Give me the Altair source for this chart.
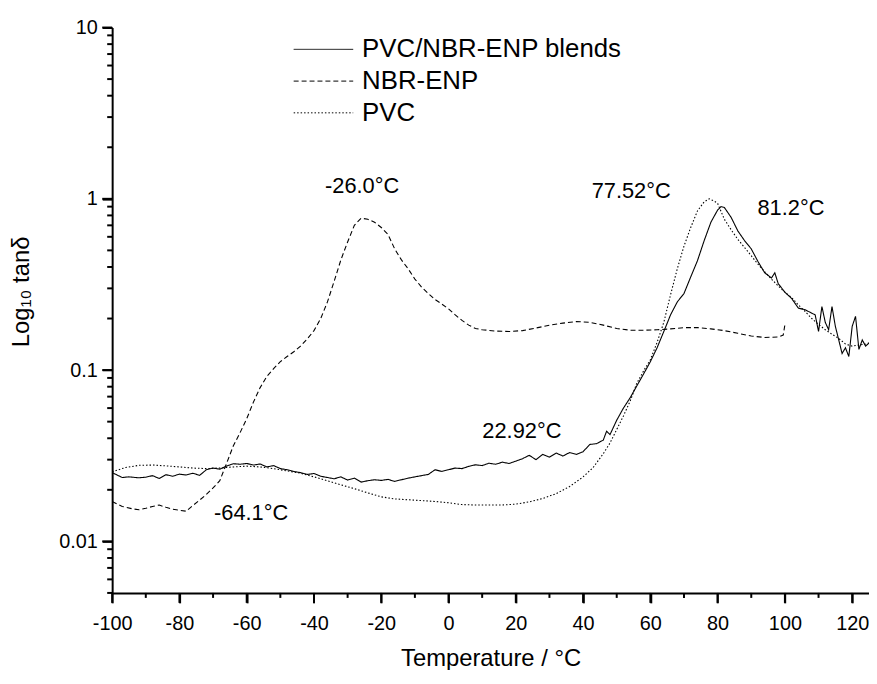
import altair as alt
import pandas as pd

# ---------------- data ----------------
SERIES = ["PVC/NBR-ENP blends", "NBR-ENP", "PVC"]

blend_t = [-100, -97, -95, -92, -90, -88, -86, -84, -82, -80, -78, -76, -74, -72, -70,
           -68, -66, -64, -62, -60, -58, -56, -54, -52, -50, -48, -46, -44, -42, -40,
           -38, -36, -34, -32, -30, -28, -26, -24, -22, -20, -18, -16, -14, -12, -10,
           -8, -6, -4, -2, 0, 2, 4, 6, 8, 10, 12, 14, 16, 18, 20, 22, 24, 26, 28, 30,
           32, 34, 36, 38, 40, 42, 44, 46, 47, 48, 50, 52, 54, 56, 58, 60, 62, 64, 66,
           68, 70, 72, 74, 76, 78, 80, 81, 82, 84, 86, 88, 90, 92, 94, 96, 97, 98, 100,
           102, 104, 106, 108, 109, 110, 111, 112, 113, 114, 115, 116, 117, 118, 119,
           120, 121, 122, 123, 124, 125]
blend_v = [0.0252, 0.0236, 0.0238, 0.0235, 0.0237, 0.0242, 0.0233, 0.0245, 0.0240, 0.0247,
           0.0244, 0.0250, 0.0243, 0.0262, 0.0268, 0.0264, 0.0275, 0.0284, 0.0282, 0.0285,
           0.0279, 0.0283, 0.0272, 0.0277, 0.0266, 0.0262, 0.0256, 0.0252, 0.0246, 0.0249,
           0.0240, 0.0236, 0.0232, 0.0238, 0.0228, 0.0234, 0.0222, 0.0226, 0.0229, 0.0227,
           0.0230, 0.0224, 0.0229, 0.0234, 0.0238, 0.0242, 0.0246, 0.0262, 0.0256, 0.0262,
           0.0268, 0.0266, 0.0274, 0.0280, 0.0277, 0.0286, 0.0282, 0.0290, 0.0285, 0.0294,
           0.0304, 0.0318, 0.0300, 0.0322, 0.0310, 0.0328, 0.0315, 0.0330, 0.0322, 0.0334,
           0.0368, 0.0372, 0.0390, 0.0440, 0.0420, 0.0510, 0.0600, 0.0690, 0.0810, 0.0950,
           0.1120, 0.1350, 0.1680, 0.2100, 0.2500, 0.2800, 0.3500, 0.4350, 0.5700, 0.7300,
           0.8600, 0.9000, 0.8900, 0.7800, 0.6500, 0.5700, 0.5100, 0.4300, 0.3700, 0.3450,
           0.3700, 0.3200, 0.2850, 0.2620, 0.2300, 0.2250, 0.2150, 0.2100, 0.1680, 0.2350,
           0.1900, 0.1720, 0.2350, 0.1800, 0.1500, 0.1250, 0.1350, 0.1200, 0.1800, 0.2060,
           0.1320, 0.1500, 0.1380, 0.1440]

nbr_t = [-100, -97, -94, -92, -90, -88, -86, -84, -82, -80, -78, -76, -74, -72, -70, -68,
         -66, -64, -62, -60, -58, -56, -54, -52, -50, -48, -46, -44, -42, -40, -38, -36,
         -34, -32, -30, -28, -26, -24, -22, -20, -18, -16, -14, -12, -10, -8, -6, -4, -2,
         0, 2, 4, 6, 8, 10, 14, 18, 22, 26, 30, 34, 38, 42, 46, 50, 54, 58, 62, 66, 70,
         74, 78, 82, 86, 90, 94, 98, 99.5, 100]
nbr_v = [0.0171, 0.0160, 0.0155, 0.0153, 0.0156, 0.0160, 0.0163, 0.0158, 0.0154, 0.0152,
         0.0150, 0.0162, 0.0174, 0.0188, 0.0205, 0.0226, 0.0285, 0.0360, 0.0430, 0.0520,
         0.0650, 0.0790, 0.0920, 0.1020, 0.1120, 0.1200, 0.1280, 0.1380, 0.1520, 0.1700,
         0.2000, 0.2500, 0.3300, 0.4400, 0.5600, 0.7000, 0.7700, 0.7600, 0.7300, 0.6800,
         0.6200, 0.5100, 0.4400, 0.3900, 0.3400, 0.3050, 0.2800, 0.2580, 0.2430, 0.2280,
         0.2100, 0.1950, 0.1830, 0.1750, 0.1720, 0.1690, 0.1680, 0.1700, 0.1760, 0.1830,
         0.1880, 0.1920, 0.1900, 0.1830, 0.1750, 0.1710, 0.1710, 0.1720, 0.1740, 0.1770,
         0.1770, 0.1740, 0.1700, 0.1640, 0.1580, 0.1550, 0.1560, 0.1600, 0.1840]

pvc_t = [-100, -96, -92, -88, -84, -80, -76, -72, -68, -64, -60, -56, -52, -48, -44, -40,
         -36, -32, -28, -24, -20, -16, -12, -8, -4, 0, 4, 8, 12, 16, 20, 24, 28, 32, 36,
         40, 43, 46, 48, 50, 52, 54, 56, 58, 60, 62, 64, 66, 68, 70, 72, 74, 76, 77.5,
         79, 80, 82, 84, 86, 88, 90, 92, 94, 96, 98, 100, 102, 104, 106, 108, 110, 112,
         114, 116, 118, 120, 122, 124, 125]
pvc_v = [0.0255, 0.0270, 0.0278, 0.0279, 0.0276, 0.0272, 0.0268, 0.0266, 0.0268, 0.0272,
         0.0275, 0.0272, 0.0266, 0.0258, 0.0250, 0.0238, 0.0226, 0.0214, 0.0203, 0.0192,
         0.0182, 0.0177, 0.0175, 0.0173, 0.0171, 0.0168, 0.0164, 0.0163, 0.0163, 0.0163,
         0.0165, 0.0170, 0.0178, 0.0190, 0.0209, 0.0238, 0.0270, 0.0325, 0.0375, 0.0450,
         0.0540, 0.0660, 0.0840, 0.0990, 0.1150, 0.1450, 0.1900, 0.2750, 0.3900, 0.5300,
         0.6800, 0.8500, 0.9600, 1.0000, 0.9700, 0.9400, 0.7600, 0.6600, 0.5800, 0.5200,
         0.4650, 0.4150, 0.3750, 0.3400, 0.3100, 0.2850, 0.2650, 0.2400, 0.2200, 0.2000,
         0.1850, 0.1720, 0.1620, 0.1530, 0.1420, 0.1380, 0.1400, 0.1420, 0.1440]

ann_text = ["-26.0°C", "77.52°C", "81.2°C", "22.92°C", "-64.1°C"]
ann_t = [-25.7, 54.3, 101.8, 21.8, -58.7]
ann_v = [1.19, 1.11, 0.887, 0.0443, 0.0146]

x_major = list(range(-100, 121, 20))
x_minor = list(range(-90, 121, 20))
y_major = [0.01, 0.1, 1, 10]
y_minor = [round(k * 10 ** e, 6) for e in (-3, -2, -1, 0) for k in range(2, 10)]
y_minor = [v for v in y_minor if 0.005 <= v < 10]

# ---------------- tables ----------------
rows = []
for name, ts, vs in zip(SERIES, [blend_t, nbr_t, pvc_t], [blend_v, nbr_v, pvc_v]):
    for t, v in zip(ts, vs):
        rows.append({"series": name, "T": t, "v": v})
df = pd.DataFrame(rows)
ann = pd.DataFrame({"label": ann_text, "T": ann_t, "v": ann_v})
xmaj = pd.DataFrame({"t": x_major})
xmin = pd.DataFrame({"t": x_minor})
ymaj = pd.DataFrame({"t": y_major})
ymin = pd.DataFrame({"t": y_minor})

FONT = "Liberation Sans"
W, H = 763, 570

x_scale = alt.Scale(domain=[-100, 125], nice=False, zero=False)
y_scale = alt.Scale(type="log", domain=[0.005, 10], nice=False)

x_axis = alt.Axis(
    values=x_major, title="Temperature / °C", orient="bottom",
    labelExpr="'' + datum.value", ticks=True, tickSize=10,
    labelFlush=False, labelOverlap=False, labelPadding=11, titlePadding=13,
)
y_axis = alt.Axis(
    values=y_major, title="Log₁₀ tanδ", orient="left",
    labelExpr="'' + datum.value", ticks=True, tickSize=10,
    labelOverlap=False, labelPadding=5, titleX=-79, titleY=266,
)

lines = alt.Chart(df).mark_line(color="black", strokeWidth=1.1).encode(
    x=alt.X("T:Q", scale=x_scale, axis=x_axis),
    y=alt.Y("v:Q", scale=y_scale, axis=y_axis),
    strokeDash=alt.StrokeDash(
        "series:N",
        scale=alt.Scale(domain=SERIES, range=[[1, 0], [5, 3], [1.5, 2]]),
        legend=alt.Legend(
            title=None, orient="none", legendX=200, legendY=9,
            symbolType="M-3,0L3,0", symbolSize=400, symbolStrokeWidth=1,
            symbolStrokeColor="black", labelOffset=26, labelLimit=0,
            labelFont=FONT, labelFontSize=26, labelColor="black",
            rowPadding=6, padding=0,
        ),
    ),
    detail="series:N",
)

labels = alt.Chart(ann).mark_text(
    font=FONT, fontSize=22, color="black", align="center", baseline="middle"
).encode(
    x=alt.X("T:Q", scale=x_scale, axis=None),
    y=alt.Y("v:Q", scale=y_scale, axis=None),
    text="label:N",
)

# tick marks along the axes (positions come from the scales)
xt_major = alt.Chart(xmaj).mark_rule(color="black", strokeWidth=2).encode(
    x=alt.X("t:Q", scale=x_scale, axis=None), y=alt.value(H), y2=alt.value(H + 10))
xt_minor = alt.Chart(xmin).mark_rule(color="black", strokeWidth=2).encode(
    x=alt.X("t:Q", scale=x_scale, axis=None), y=alt.value(H), y2=alt.value(H + 5))
yt_major = alt.Chart(ymaj).mark_rule(color="black", strokeWidth=2).encode(
    y=alt.Y("t:Q", scale=y_scale, axis=None), x=alt.value(-10), x2=alt.value(0))
yt_minor = alt.Chart(ymin).mark_rule(color="black", strokeWidth=2).encode(
    y=alt.Y("t:Q", scale=y_scale, axis=None), x=alt.value(-5), x2=alt.value(0))

chart = (
    alt.layer(lines, labels, xt_major, xt_minor, yt_major, yt_minor)
    .resolve_axis(x="independent", y="independent")
    .properties(
        width=W, height=H,
        autosize=alt.AutoSizeParams(type="none"),
        padding={"left": 105, "top": 17, "right": 0, "bottom": 75},
        background="white",
    )
    .configure_view(stroke=None)
    .configure_axis(
        grid=False, domainColor="black", domainWidth=2,
        tickColor="black", tickWidth=2,
        labelFont=FONT, labelFontSize=20, labelColor="black",
        titleFont=FONT, titleFontSize=24, titleFontWeight="normal", titleColor="black",
    )
)

chart.save("out.html", embed_options={"renderer": "svg", "actions": False})
